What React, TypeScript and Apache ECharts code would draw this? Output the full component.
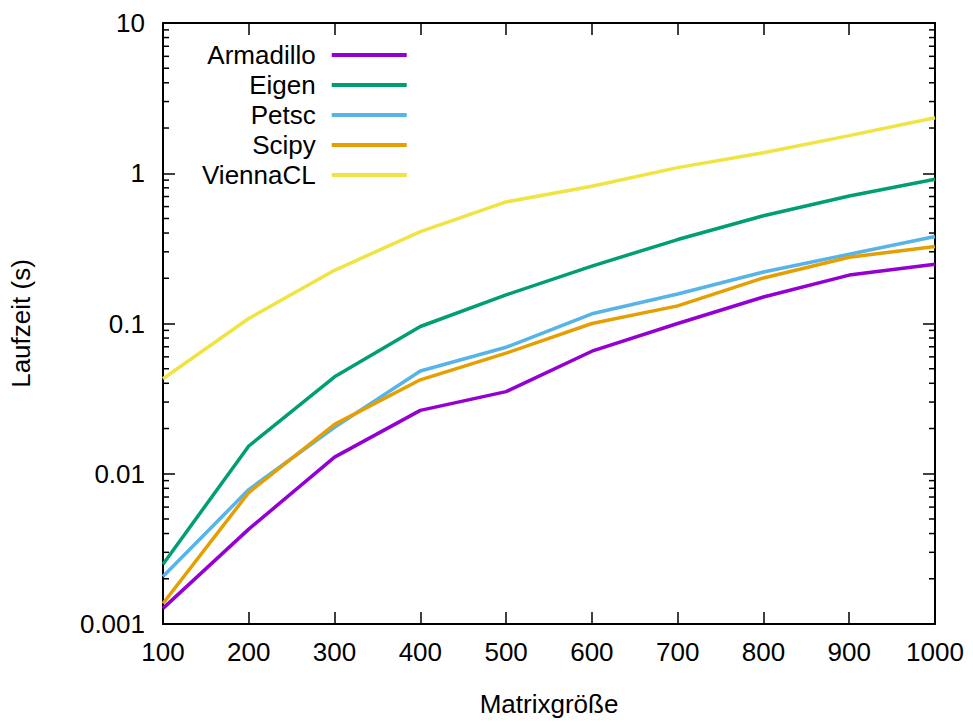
import React, { useEffect, useRef } from "react";
import * as echarts from "echarts";

const sizes = [100, 200, 300, 400, 500, 600, 700, 800, 900, 1000];
const armadillo = [0.00127, 0.00428, 0.0129, 0.0264, 0.0352, 0.0654, 0.1, 0.15, 0.21, 0.248];
const eigen = [0.0025, 0.0153, 0.0442, 0.0955, 0.155, 0.241, 0.362, 0.521, 0.706, 0.913];
const petsc = [0.00207, 0.00785, 0.0204, 0.0483, 0.0695, 0.116, 0.157, 0.22, 0.289, 0.379];
const scipy = [0.00137, 0.0075, 0.0213, 0.0422, 0.0635, 0.1, 0.131, 0.201, 0.276, 0.326];
const viennacl = [0.0429, 0.108, 0.226, 0.409, 0.644, 0.82, 1.09, 1.37, 1.78, 2.34];

const seriesNames = ["Armadillo", "Eigen", "Petsc", "Scipy", "ViennaCL"];
const seriesValues = [armadillo, eigen, petsc, scipy, viennacl];
const colors = ["#9400d3", "#009e73", "#56b4e9", "#e69f00", "#f0e442"];

const yMin = 0.001;
const yMax = 10;
const decades = [0.001, 0.01, 0.1, 1];
const minorMultipliers = [2, 3, 4, 5, 6, 7, 8, 9];

const FONT = "'Liberation Sans', Arial, sans-serif";

export default function App() {
  const ref = useRef<HTMLDivElement>(null);

  useEffect(() => {
    if (!ref.current) return;
    const chart = echarts.init(ref.current, undefined, { renderer: "svg" });

    const minorData: number[][] = [];
    decades.forEach((d) => minorMultipliers.forEach((m) => minorData.push([100, Number((d * m).toPrecision(3))])));

    const lineSeries = seriesNames.map((name, i) => ({
      name,
      type: "line",
      data: sizes.map((s, j) => [s, seriesValues[i][j]]),
      showSymbol: false,
      symbol: "none",
      color: colors[i],
      lineStyle: { width: 3.5, color: colors[i] },
      z: 3,
    }));

    const axisText = { color: "#000", fontSize: 26, fontFamily: FONT };

    chart.setOption({
      animation: false,
      backgroundColor: "#fff",
      grid: { left: 162, right: 38, top: 23, bottom: 91, containLabel: false },
      legend: {
        data: seriesNames,
        orient: "vertical",
        align: "right",
        left: 202,
        top: 42,
        padding: 0,
        itemGap: 4,
        itemWidth: 75,
        itemHeight: 4,
        icon: "rect",
        textStyle: { ...axisText, width: 130, align: "right", padding: [0, 11, 0, 0] },
      },
      xAxis: [
        {
          type: "value",
          min: 100,
          max: 1000,
          interval: 100,
          position: "bottom",
          name: "Matrixgröße",
          nameLocation: "middle",
          nameGap: 67,
          nameTextStyle: axisText,
          axisLine: { show: true, lineStyle: { color: "#000", width: 2 } },
          axisTick: { show: true, inside: true, length: 12, lineStyle: { color: "#000", width: 1.5 } },
          axisLabel: { ...axisText, margin: 15, formatter: (v: number) => String(v) },
          splitLine: { show: false },
        },
        {
          type: "value",
          min: 100,
          max: 1000,
          interval: 100,
          position: "top",
          axisLine: { show: true, lineStyle: { color: "#000", width: 2 } },
          axisTick: { show: true, inside: true, length: 12, lineStyle: { color: "#000", width: 1.5 } },
          axisLabel: { show: false },
          splitLine: { show: false },
        },
      ],
      yAxis: [
        {
          type: "log",
          logBase: 10,
          min: yMin,
          max: yMax,
          position: "left",
          name: "Laufzeit (s)",
          nameLocation: "middle",
          nameGap: 129,
          nameRotate: 90,
          nameTextStyle: axisText,
          axisLine: { show: true, lineStyle: { color: "#000", width: 2 } },
          axisTick: { show: true, inside: true, length: 12, lineStyle: { color: "#000", width: 1.5 } },
          axisLabel: {
            ...axisText,
            margin: 18,
            formatter: (v: number) => String(Number(v.toPrecision(3))),
          },
          splitLine: { show: false },
        },
        {
          type: "log",
          logBase: 10,
          min: yMin,
          max: yMax,
          position: "right",
          axisLine: { show: true, lineStyle: { color: "#000", width: 2 } },
          axisTick: { show: true, inside: true, length: 12, lineStyle: { color: "#000", width: 1.5 } },
          axisLabel: { show: false },
          splitLine: { show: false },
        },
      ],
      series: [
        ...lineSeries,
        {
          type: "custom",
          name: "minorTicks",
          silent: true,
          clip: false,
          z: 1,
          data: minorData,
          renderItem: (params: any, api: any) => {
            const v = api.value(1);
            const l = api.coord([100, v]);
            const r = api.coord([1000, v]);
            const style = { stroke: "#000", lineWidth: 1.5 };
            return {
              type: "group",
              children: [
                { type: "line", shape: { x1: l[0], y1: l[1], x2: l[0] + 6, y2: l[1] }, style },
                { type: "line", shape: { x1: r[0], y1: r[1], x2: r[0] - 6, y2: r[1] }, style },
              ],
            };
          },
        },
      ],
    });

    return () => chart.dispose();
  }, []);

  return (
    <div
      ref={ref}
      style={{ position: "fixed", left: 0, top: 0, width: 973, height: 722, background: "#fff" }}
    />
  );
}
